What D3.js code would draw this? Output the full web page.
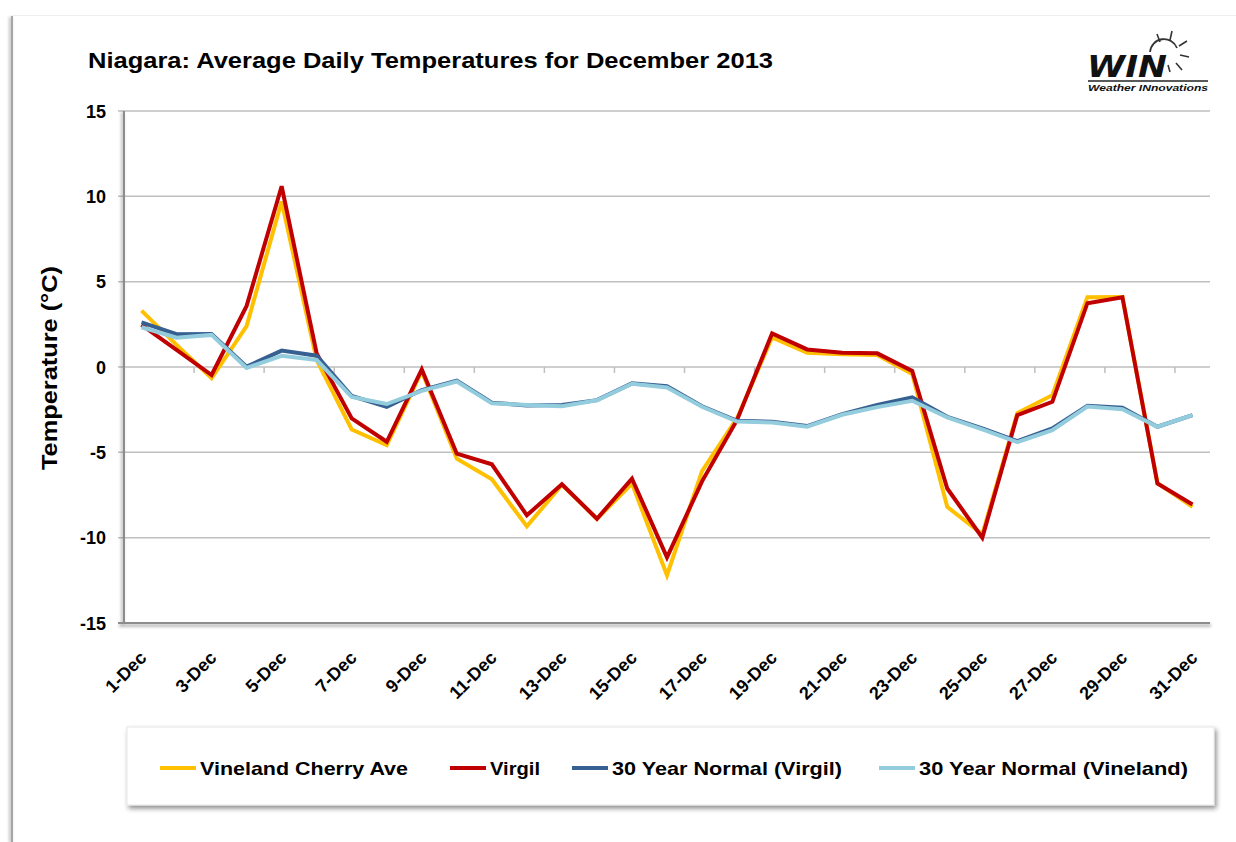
<!DOCTYPE html>
<html>
<head>
<meta charset="utf-8">
<script src="https://cdn.jsdelivr.net/npm/d3@7"></script>
<style>
  html, body { margin: 0; padding: 0; background: #ffffff; }
  svg { display: block; font-family: "Liberation Sans", Arial, sans-serif; }
</style>
</head>
<body>
<svg id="chart" width="1236" height="842"></svg>
<script>
const categories = ["1-Dec","2-Dec","3-Dec","4-Dec","5-Dec","6-Dec","7-Dec","8-Dec","9-Dec","10-Dec",
  "11-Dec","12-Dec","13-Dec","14-Dec","15-Dec","16-Dec","17-Dec","18-Dec","19-Dec","20-Dec",
  "21-Dec","22-Dec","23-Dec","24-Dec","25-Dec","26-Dec","27-Dec","28-Dec","29-Dec","30-Dec","31-Dec"];

const vinelandCherryAve = [3.3, 1.3, -0.66, 2.4, 9.7, 0.4, -3.66, -4.58, -0.25, -5.37,
  -6.58, -9.34, -6.9, -8.9, -6.83, -12.2, -6.1, -3.0, 1.74, 0.84,
  0.75, 0.7, -0.41, -8.2, -9.8, -2.7, -1.65, 4.09, 4.1, -6.8, -8.2];

const virgil = [2.47, 1.0, -0.47, 3.58, 10.59, 0.8, -3.01, -4.38, -0.14, -5.08,
  -5.7, -8.69, -6.87, -8.89, -6.54, -11.15, -6.7, -3.1, 1.97, 1.03,
  0.84, 0.8, -0.23, -7.12, -10.0, -2.82, -2.04, 3.74, 4.09, -6.83, -8.06];

const normalVirgil = [2.62, 1.92, 1.94, 0.02, 0.96, 0.66, -1.70, -2.33, -1.35, -0.80,
  -2.09, -2.25, -2.22, -1.94, -0.96, -1.12, -2.3, -3.15, -3.21, -3.46,
  -2.76, -2.23, -1.78, -2.92, -3.6, -4.35, -3.6, -2.27, -2.39, -3.5, -2.82];

const normalVineland = [2.33, 1.72, 1.88, -0.05, 0.66, 0.41, -1.75, -2.17, -1.4, -0.85,
  -2.13, -2.22, -2.3, -1.95, -0.98, -1.2, -2.33, -3.2, -3.25, -3.5,
  -2.8, -2.35, -1.98, -2.95, -3.65, -4.4, -3.7, -2.32, -2.47, -3.5, -2.82];

const seriesNames = ["Vineland Cherry Ave", "Virgil", "30 Year Normal (Virgil)", "30 Year Normal (Vineland)"];
const seriesColors = ["#FFC000", "#C00000", "#376092", "#93CDDD"];
const yTicks = [15, 10, 5, 0, -5, -10, -15];

const series = [vinelandCherryAve, virgil, normalVirgil, normalVineland];

const svg = d3.select("#chart");
const plot = { left: 124, right: 1210, top: 111, bottom: 623 };

// defs: shadows
const defs = svg.append("defs");
const f = defs.append("filter").attr("id", "shadow").attr("x", "-5%").attr("y", "-30%").attr("width", "110%").attr("height", "170%");
f.append("feDropShadow").attr("dx", 2).attr("dy", 3).attr("stdDeviation", 2.5).attr("flood-color", "#000").attr("flood-opacity", 0.45);
const f2 = defs.append("filter").attr("id", "lshadow").attr("x", "-300%").attr("y", "-5%").attr("width", "700%").attr("height", "110%");
f2.append("feDropShadow").attr("dx", -1.5).attr("dy", 1).attr("stdDeviation", 1.5).attr("flood-color", "#000").attr("flood-opacity", 0.35);
const f3 = defs.append("filter").attr("id", "bshadow").attr("x", "-2%").attr("y", "-300%").attr("width", "104%").attr("height", "700%");
f3.append("feDropShadow").attr("dx", 1).attr("dy", 2.5).attr("stdDeviation", 1.8).attr("flood-color", "#000").attr("flood-opacity", 0.4);

// outer frame (left/top faint edges)
svg.append("rect").attr("x", 11).attr("y", 16).attr("width", 2).attr("height", 826)
  .attr("fill", "#a6a6a6").attr("filter", "url(#lshadow)");
svg.append("rect").attr("x", 12).attr("y", 15).attr("width", 1224).attr("height", 1)
  .attr("fill", "#efefef");

// title
svg.append("text").attr("x", 88).attr("y", 68)
  .attr("font-size", 22.5).attr("font-weight", "bold").attr("fill", "#000")
  .attr("textLength", 685).attr("lengthAdjust", "spacingAndGlyphs")
  .text("Niagara: Average Daily Temperatures for December 2013");

// logo
const logo = svg.append("g");
logo.append("text").attr("x", 1087).attr("y", 77).attr("font-size", 31).attr("font-weight", "900")
  .attr("font-style", "italic").attr("fill", "#111").attr("font-family", "'DejaVu Sans', sans-serif")
  .attr("textLength", 80).attr("lengthAdjust", "spacingAndGlyphs").text("WIN");
logo.append("line").attr("x1", 1088).attr("x2", 1208).attr("y1", 81).attr("y2", 81).attr("stroke", "#222").attr("stroke-width", 1.5);
logo.append("text").attr("x", 1088).attr("y", 91).attr("font-size", 8.5).attr("font-weight", "bold")
  .attr("font-style", "italic").attr("fill", "#111")
  .attr("textLength", 120).attr("lengthAdjust", "spacingAndGlyphs").text("Weather INnovations");
// sun
logo.append("path").attr("d", "M1150,52 A14,14 0 0 1 1177,48").attr("fill", "none").attr("stroke", "#333").attr("stroke-width", 1.8);
const rays = [[1160,42,1157,34],[1170,40,1172,31],[1179,46,1187,41],[1180,55,1189,57],[1176,63,1182,70],[1168,65,1170,72]];
rays.forEach(r => logo.append("line").attr("x1", r[0]).attr("y1", r[1]).attr("x2", r[2]).attr("y2", r[3]).attr("stroke", "#333").attr("stroke-width", 1.6));

// scales
const x = d3.scalePoint().domain(categories).range([plot.left, plot.right]).padding(0.5);
const y = d3.scaleLinear().domain([-15, 15]).range([plot.bottom, plot.top]);
const step = x.step();

// gridlines
const grid = svg.append("g");
grid.selectAll("line").data(yTicks.filter(v => v !== -15)).join("line")
  .attr("x1", plot.left - 6).attr("x2", plot.right)
  .attr("y1", d => y(d)).attr("y2", d => y(d))
  .attr("stroke", "#bfbfbf").attr("stroke-width", 1.5);

// plot area left + bottom edges with shadow
svg.append("rect").attr("x", plot.left - 1).attr("y", plot.top).attr("width", 2).attr("height", plot.bottom - plot.top)
  .attr("fill", "#8c8c8c").attr("filter", "url(#lshadow)");
svg.append("rect").attr("x", plot.left - 6).attr("y", plot.bottom - 1).attr("width", plot.right - plot.left + 6).attr("height", 2)
  .attr("fill", "#8c8c8c").attr("filter", "url(#bshadow)");

// category tick marks on the zero line
const tickIdx = d3.range(2, categories.length, 2);
svg.append("g").selectAll("line").data(tickIdx).join("line")
  .attr("x1", d => x(categories[d]) - step / 2).attr("x2", d => x(categories[d]) - step / 2)
  .attr("y1", y(0)).attr("y2", y(0) + 6)
  .attr("stroke", "#bfbfbf").attr("stroke-width", 1.5);

// y tick labels
svg.append("g").selectAll("text").data(yTicks).join("text")
  .attr("x", 106).attr("y", d => y(d) + 6.5)
  .attr("text-anchor", "end").attr("font-size", 18).attr("font-weight", "bold").attr("fill", "#000")
  .text(d => d);

// y axis title
svg.append("text").attr("transform", "translate(57,368) rotate(-90)")
  .attr("text-anchor", "middle").attr("font-size", 22).attr("font-weight", "bold").attr("fill", "#000")
  .attr("textLength", 204).attr("lengthAdjust", "spacingAndGlyphs")
  .text("Temperature (°C)");

// x labels (odd days)
svg.append("g").selectAll("text").data(categories.filter((c, i) => i % 2 === 0)).join("text")
  .attr("transform", d => `translate(${x(d) + 6},${plot.bottom + 36}) rotate(-45)`)
  .attr("text-anchor", "end").attr("font-size", 18).attr("font-weight", "bold")
  .attr("fill", "#000")
  .text(d => d);

// lines
const line = d3.line().x((d, i) => x(categories[i])).y(d => y(d)).curve(d3.curveLinear);
svg.append("g").selectAll("path").data(series).join("path")
  .attr("d", d => line(d))
  .attr("fill", "none")
  .attr("stroke", (d, i) => seriesColors[i])
  .attr("stroke-width", 4)
  .attr("stroke-linejoin", "miter");

// legend box
svg.append("rect").attr("x", 127).attr("y", 727).attr("width", 1087).attr("height", 78)
  .attr("fill", "#fff").attr("stroke", "#e6e6e6").attr("stroke-width", 1).attr("filter", "url(#shadow)");

const legendX = [160, 450, 572, 879];
const legendW = [208, 50, 230, 269];
const lg = svg.append("g");
seriesNames.forEach((n, i) => {
  lg.append("line").attr("x1", legendX[i]).attr("x2", legendX[i] + 36).attr("y1", 768).attr("y2", 768)
    .attr("stroke", seriesColors[i]).attr("stroke-width", 4);
  lg.append("text").attr("x", legendX[i] + 40).attr("y", 775)
    .attr("font-size", 19).attr("font-weight", "bold").attr("fill", "#000")
    .attr("textLength", legendW[i]).attr("lengthAdjust", "spacingAndGlyphs")
    .text(n);
});
</script>
</body>
</html>
